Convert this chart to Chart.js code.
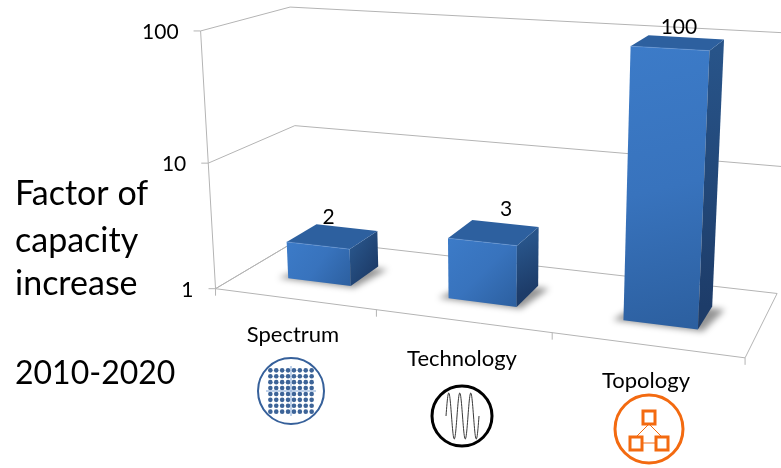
<!DOCTYPE html>
<html>
<head>
<meta charset="utf-8">
<style>
html,body{margin:0;padding:0;background:#fff;}
canvas{display:block;}
</style>
<script src="https://cdn.jsdelivr.net/npm/chart.js@4"></script>
</head>
<body>
<canvas id="c" width="781" height="468"></canvas>
<script>
const categories = ['Spectrum', 'Technology', 'Topology'];
const capacityFactors = [2, 3, 100];
const yTickValues = [1, 10, 100];
const sideCaption = ['Factor of', 'capacity', 'increase'];
const periodCaption = '2010-2020';

const FONT = 'Lato, "Open Sans", sans-serif';
const GRID = '#b4b4b4';

// Camera calibration: unit-cube corners (across, up, depth) and where they land on the canvas.
const viewPairs = [
  [[0,0,0],[216,289]], [[1,0,0],[745,358]], [[0,0,1],[299,239]], [[1,0,1],[777,293]],
  [[0,1,0],[200,31]],  [[0,1,1],[290,7]],   [[1,1,1],[792,34]],  [[1,.5,1],[785,166]],
  [[1/3,0,0],[376,310]], [[2/3,0,0],[552,333]], [[0,.5,0],[209,162]], [[0,.5,1],[295,126]]
];

// Least-squares solve of the 11 projective camera parameters.
function solveCamera(pairs) {
  const rows = [], rhs = [];
  for (const [[X,Y,Z],[x,y]] of pairs) {
    rows.push([X,Y,Z,1,0,0,0,0,-x*X,-x*Y,-x*Z]); rhs.push(x);
    rows.push([0,0,0,0,X,Y,Z,1,-y*X,-y*Y,-y*Z]); rhs.push(y);
  }
  const n = 11, M = [];
  for (let i = 0; i < n; i++) {
    M.push(new Array(n + 1).fill(0));
    for (let r = 0; r < rows.length; r++) {
      for (let j = 0; j < n; j++) M[i][j] += rows[r][i] * rows[r][j];
      M[i][n] += rows[r][i] * rhs[r];
    }
  }
  for (let c = 0; c < n; c++) {
    let p = c;
    for (let r = c + 1; r < n; r++) if (Math.abs(M[r][c]) > Math.abs(M[p][c])) p = r;
    [M[c], M[p]] = [M[p], M[c]];
    for (let r = 0; r < n; r++) {
      if (r === c) continue;
      const f = M[r][c] / M[c][c];
      for (let j = c; j <= n; j++) M[r][j] -= f * M[c][j];
    }
  }
  return M.map((row, i) => row[n] / row[i]);
}
const cam = solveCamera(viewPairs);
function project(u, v, w) {
  const d = cam[8]*u + cam[9]*v + cam[10]*w + 1;
  return [(cam[0]*u + cam[1]*v + cam[2]*w + cam[3]) / d,
          (cam[4]*u + cam[5]*v + cam[6]*w + cam[7]) / d];
}

function poly(ctx, pts) {
  ctx.beginPath();
  pts.forEach((p, i) => i ? ctx.lineTo(p[0], p[1]) : ctx.moveTo(p[0], p[1]));
  ctx.closePath();
}
function seg(ctx, a, b) {
  ctx.beginPath(); ctx.moveTo(a[0], a[1]); ctx.lineTo(b[0], b[1]); ctx.stroke();
}

// Walls, floor and tick marks of the box, driven by the value and category scales.
function drawFrame(chart) {
  const { ctx, scales: { y }, chartArea: a } = chart;
  ctx.save();
  ctx.strokeStyle = GRID; ctx.lineWidth = 1;
  for (const t of yTickValues) {
    const v = (a.bottom - y.getPixelForValue(t)) / a.height;
    const front = project(0, v, 0), back = project(0, v, 1), right = project(1, v, 1);
    seg(ctx, [front[0] - 7, front[1]], front);
    seg(ctx, front, back);
    if (v > 0) seg(ctx, back, right);
  }
  seg(ctx, project(0,0,0), project(0,1,0));
  poly(ctx, [project(0,0,0), project(1,0,0), project(1,0,1), project(0,0,1)]);
  ctx.stroke();
  for (let i = 0; i <= categories.length; i++) {
    const p = project(i / categories.length, 0, 0);
    seg(ctx, p, [p[0], p[1] + 7]);
  }
  ctx.restore();
}

// Each bar's box is built from the element geometry the bar controller computed.
const DEPTH_NEAR = 0.30, DEPTH_FAR = 0.67;
function drawBars(chart) {
  const { ctx, chartArea: a } = chart;
  const meta = chart.getDatasetMeta(0);
  const labelNudge = [[-18, -10], [1, -14], [-7, -10]];
  meta.data.forEach((bar, i) => {
    const l = (bar.x - bar.width / 2 - a.left) / a.width;
    const r = (bar.x + bar.width / 2 - a.left) / a.width;
    const top = (a.bottom - bar.y) / a.height;
    const n = DEPTH_NEAR, f = DEPTH_FAR;

    ctx.save();
    ctx.filter = 'blur(3px)';
    ctx.fillStyle = 'rgba(0,0,0,0.42)';
    poly(ctx, [project(l-.018,0,n-.015), project(r+.01,0,n-.02), project(r+.025,0,f-.03), project(l+.01,0,f-.03)]);
    ctx.fill();
    ctx.restore();

    const fl = project(l,top,n), fr = project(r,top,n), bl = project(l,0,n), br = project(r,0,n);
    const tbl = project(l,top,f), tbr = project(r,top,f), sb = project(r,0,f);

    ctx.save();
    const gf = ctx.createLinearGradient(fl[0], fl[1], br[0], br[1]);
    gf.addColorStop(0, '#3c7bc8'); gf.addColorStop(0.5, '#3873bd'); gf.addColorStop(1, '#2c5f9f');
    ctx.fillStyle = gf; poly(ctx, [fl, fr, br, bl]); ctx.fill();

    const gs = ctx.createLinearGradient(fr[0], fr[1], sb[0], sb[1]);
    gs.addColorStop(0, '#285489'); gs.addColorStop(1, '#1d3c69');
    ctx.fillStyle = gs; poly(ctx, [fr, tbr, sb, br]); ctx.fill();

    ctx.fillStyle = '#2d609f'; poly(ctx, [fl, fr, tbr, tbl]); ctx.fill();

    ctx.strokeStyle = 'rgba(110,160,225,0.5)'; ctx.lineWidth = 1;
    seg(ctx, fl, fr);
    ctx.restore();

    const c = project((l + r) / 2, top, f);
    ctx.save();
    ctx.fillStyle = '#000';
    ctx.font = '21px ' + FONT;
    ctx.textAlign = 'center'; ctx.textBaseline = 'middle';
    ctx.fillText(String(capacityFactors[i]), c[0] + labelNudge[i][0], c[1] + labelNudge[i][1]);
    ctx.restore();
  });
}

function drawAxisText(chart) {
  const { ctx, scales: { y }, chartArea: a } = chart;
  ctx.save();
  ctx.fillStyle = '#000';
  ctx.textBaseline = 'middle';
  ctx.font = '21px ' + FONT;
  ctx.textAlign = 'right';
  for (const t of yTickValues) {
    const p = project(0, (a.bottom - y.getPixelForValue(t)) / a.height, 0);
    ctx.fillText(String(t), p[0] - 22, p[1] + 1.5);
  }
  ctx.textAlign = 'center';
  ctx.font = '22px ' + FONT;
  const catSpots = [[293, 335], [462, 359], [646, 381]];
  categories.forEach((c, i) => ctx.fillText(c, catSpots[i][0], catSpots[i][1]));
  ctx.textAlign = 'left';
  ctx.font = '34px ' + FONT;
  const capY = [194, 241, 284];
  sideCaption.forEach((s, i) => ctx.fillText(s, 15, capY[i]));
  ctx.font = '32px ' + FONT;
  ctx.fillText(periodCaption, 15, 374);
  ctx.restore();
}

// Small pictograms beneath each category name.
function drawIcons(ctx) {
  ctx.save();
  // spectrum: dot grid with a faint cross
  const sx = 291, sy = 391;
  ctx.fillStyle = '#3d6498';
  for (let r = 0; r < 8; r++) for (let q = 0; q < 8; q++) {
    ctx.beginPath();
    ctx.arc(sx + (q - 3.5) * 5.9, sy + (r - 3.5) * 5.9, 2.3, 0, Math.PI * 2);
    ctx.fill();
  }
  ctx.strokeStyle = 'rgba(150,180,220,0.6)'; ctx.lineWidth = 2;
  seg(ctx, [sx - 25, sy], [sx + 25, sy]);
  seg(ctx, [sx, sy - 25], [sx, sy + 25]);
  ctx.strokeStyle = '#36609a'; ctx.lineWidth = 2;
  ctx.beginPath(); ctx.arc(sx, sy, 33, 0, Math.PI * 2); ctx.stroke();

  // technology: waveform in a black ring
  const tx = 462, ty = 416;
  ctx.strokeStyle = '#000'; ctx.lineWidth = 3;
  ctx.beginPath(); ctx.arc(tx, ty, 30, 0, Math.PI * 2); ctx.stroke();
  ctx.lineWidth = 0.9; ctx.strokeStyle = '#222';
  ctx.beginPath();
  for (let px = 0; px <= 33; px += 0.25) {
    const yy = ty - 23 * Math.sin(px / 11 * Math.PI * 2);
    px ? ctx.lineTo(tx - 16 + px, yy) : ctx.moveTo(tx - 16 + px, yy);
  }
  ctx.stroke();

  // topology: three linked nodes in an orange ring
  const ox = 649, oy = 429, orange = '#f36a10';
  ctx.strokeStyle = orange; ctx.lineWidth = 3;
  ctx.beginPath(); ctx.arc(ox, oy, 34, 0, Math.PI * 2); ctx.stroke();
  ctx.lineWidth = 1;
  seg(ctx, [ox, oy - 5], [ox - 13, oy + 8]);
  seg(ctx, [ox, oy - 5], [ox + 13, oy + 8]);
  ctx.strokeStyle = '#f8b48a'; ctx.lineWidth = 2;
  seg(ctx, [ox - 7, oy + 14], [ox + 7, oy + 14]);
  ctx.strokeStyle = orange; ctx.lineWidth = 3;
  ctx.strokeRect(ox - 6, oy - 18, 12, 13);
  ctx.strokeRect(ox - 19, oy + 8, 12, 13);
  ctx.strokeRect(ox + 7, oy + 8, 12, 13);
  ctx.restore();
}

const box3d = {
  id: 'box3d',
  beforeDatasetsDraw(chart) { drawFrame(chart); },
  afterDatasetsDraw(chart) {
    drawBars(chart);
    drawAxisText(chart);
    drawIcons(chart.ctx);
  }
};

new Chart(document.getElementById('c'), {
  type: 'bar',
  data: {
    labels: categories,
    datasets: [{
      data: capacityFactors,
      backgroundColor: 'rgba(0,0,0,0)',
      borderWidth: 0,
      barPercentage: 0.4,
      categoryPercentage: 1
    }]
  },
  options: {
    responsive: false,
    animation: false,
    layout: { padding: { left: 216, right: 36, top: 31, bottom: 179 } },
    plugins: { legend: { display: false }, tooltip: { enabled: false } },
    scales: {
      x: { display: false },
      y: { type: 'logarithmic', min: 1, max: 100, display: false }
    }
  },
  plugins: [box3d]
});
</script>
</body>
</html>
